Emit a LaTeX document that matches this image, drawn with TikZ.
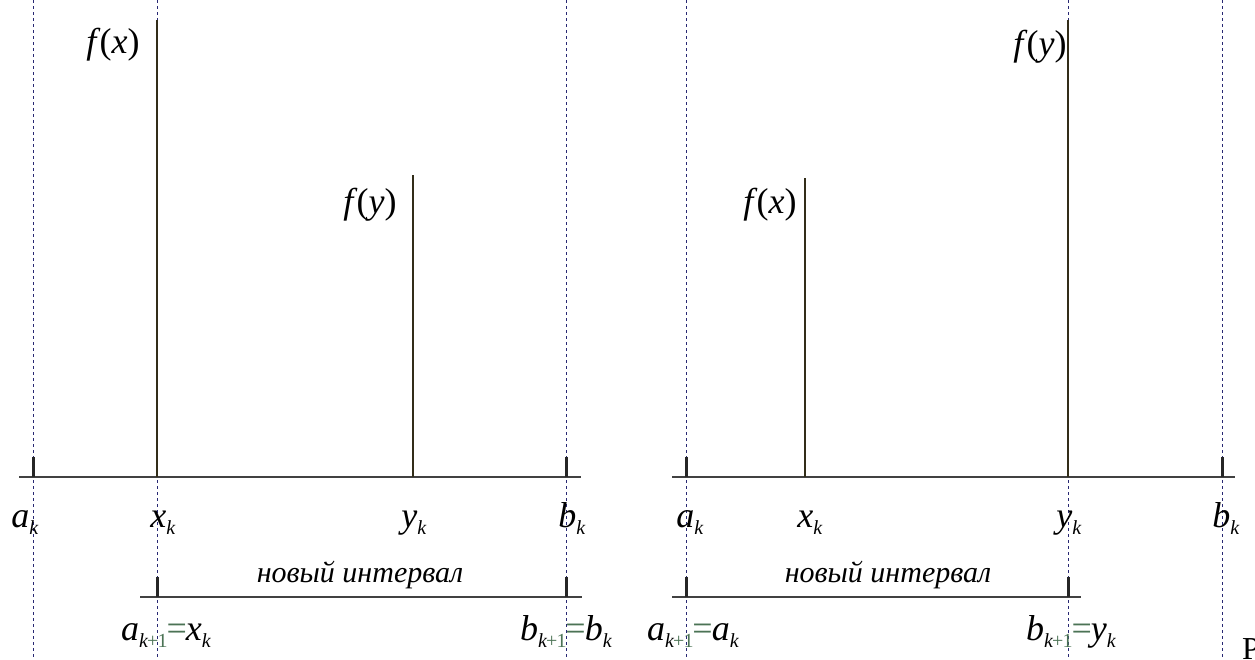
\documentclass[tikz,border=0pt]{standalone}
\usepackage{fontspec}
\setmainfont{Liberation Serif}
\definecolor{axisgray}{RGB}{65,65,65}
\definecolor{stemdark}{RGB}{50,45,25}
\definecolor{guideblue}{RGB}{40,40,115}
\definecolor{subgreen}{RGB}{75,115,85}
\usetikzlibrary{positioning}
\newcommand{\ptsub}[1]{\raisebox{-7pt}{\fontsize{20}{21}\selectfont #1}}
\newcommand{\pt}[2]{\textit{#1}\ptsub{\textit{#2}}}
\newcommand{\ptnext}[1]{\textit{#1}\ptsub{\textit{k}\kern-1pt\textcolor{subgreen}{+\kern-1pt1}}}
\newcommand{\eqs}{\kern-1pt\textcolor{subgreen}{=}\kern-1pt}
\newcommand{\fv}[1]{\textit{f}\kern-1pt(\textit{#1})}
\tikzset{
  axisline/.style={line width=2pt,draw=axisgray},
  stemline/.style={line width=1.6pt,draw=stemdark},
  guideline/.style={line width=0.9pt,draw=guideblue,dash pattern=on 3pt off 3pt},
  tickmark/.style={line width=3pt,draw=black!85},
  ptlabel/.style={anchor=base,inner sep=0pt,font=\fontsize{36}{38}\selectfont},
  newlabel/.style={anchor=base,inner sep=0pt,font=\fontsize{30}{32}\selectfont\itshape}
}
\begin{document}
\begin{tikzpicture}[x=1pt,y=-1pt]
  \useasboundingbox (0,0) rectangle (1255,659);
  % dotted guides through the interval ends
  \foreach \gx/\gn in {33/la,157/lx,566/lb,686/ra,1068/ry,1222/rb}{
    \coordinate (\gn top) at (\gx,0);
    \coordinate (\gn bot) at (\gx,659);
    \draw[guideline] (\gn top) -- (\gn bot);
  }
  % ---- left case: f(x) > f(y) ----
  \coordinate (lstart) at (19,477);
  \coordinate (lend) at (581,477);
  \coordinate (lak) at (33,477);
  \coordinate (lxk) at (157,477);
  \coordinate (lyk) at (413,477);
  \coordinate (lbk) at (566,477);
  \coordinate (lfx) at (157,20);
  \coordinate (lfy) at (413,175);
  \draw[axisline] (lstart) -- (lend);
  \draw[stemline] (lxk) -- (lfx);
  \draw[stemline] (lyk) -- (lfy);
  \draw[tickmark] (lak) -- ++(0,-20);
  \draw[tickmark] (lbk) -- ++(0,-20);
  \node[ptlabel] (lfxlbl) at (113,53) {\fv{x}};
  \node[ptlabel] (lfylbl) at (370,213) {\fv{y}};
  \node[ptlabel] (laklbl) at (25,527) {\pt{a}{k}};
  \node[ptlabel] (lxklbl) at (163,527) {\pt{x}{k}};
  \node[ptlabel] (lyklbl) at (414,527) {\pt{y}{k}};
  \node[ptlabel] (lbklbl) at (572,527) {\pt{b}{k}};
  % new interval [x_k, b_k]
  \coordinate (lnstart) at (140,597);
  \coordinate (lnend) at (582,597);
  \coordinate (lna) at (157,597);
  \coordinate (lnb) at (566,597);
  \draw[axisline] (lnstart) -- (lnend);
  \draw[tickmark] (lna) -- ++(0,-20);
  \draw[tickmark] (lnb) -- ++(0,-20);
  \node[newlabel] (lnew) at (360,582) {новый интервал};
  \node[ptlabel] (lnalbl) at (166,640) {\ptnext{a}\eqs\pt{x}{k}};
  \node[ptlabel] (lnblbl) at (566,640) {\ptnext{b}\eqs\pt{b}{k}};
  % ---- right case: f(x) < f(y) ----
  \coordinate (rstart) at (672,477);
  \coordinate (rend) at (1235,477);
  \coordinate (rak) at (686,477);
  \coordinate (rxk) at (805,477);
  \coordinate (ryk) at (1068,477);
  \coordinate (rbk) at (1222,477);
  \coordinate (rfx) at (805,178);
  \coordinate (rfy) at (1068,20);
  \draw[axisline] (rstart) -- (rend);
  \draw[stemline] (rxk) -- (rfx);
  \draw[stemline] (ryk) -- (rfy);
  \draw[tickmark] (rak) -- ++(0,-20);
  \draw[tickmark] (rbk) -- ++(0,-20);
  \node[ptlabel] (rfxlbl) at (770,213) {\fv{x}};
  \node[ptlabel] (rfylbl) at (1040,55) {\fv{y}};
  \node[ptlabel] (raklbl) at (690,527) {\pt{a}{k}};
  \node[ptlabel] (rxklbl) at (810,527) {\pt{x}{k}};
  \node[ptlabel] (ryklbl) at (1069,527) {\pt{y}{k}};
  \node[ptlabel] (rbklbl) at (1226,527) {\pt{b}{k}};
  % new interval [a_k, y_k]
  \coordinate (rnstart) at (672,597);
  \coordinate (rnend) at (1081,597);
  \coordinate (rna) at (686,597);
  \coordinate (rnb) at (1068,597);
  \draw[axisline] (rnstart) -- (rnend);
  \draw[tickmark] (rna) -- ++(0,-20);
  \draw[tickmark] (rnb) -- ++(0,-20);
  \node[newlabel] (rnew) at (888,582) {новый интервал};
  \node[ptlabel] (rnalbl) at (693,640) {\ptnext{a}\eqs\pt{a}{k}};
  \node[ptlabel] (rnblbl) at (1071,640) {\ptnext{b}\eqs\pt{y}{k}};
  % caption start, cut by the page edge
  \node[anchor=base west,inner sep=0pt,font=\fontsize{32}{34}\selectfont] (capt) at (1242,659) {Р};
\end{tikzpicture}
\end{document}
